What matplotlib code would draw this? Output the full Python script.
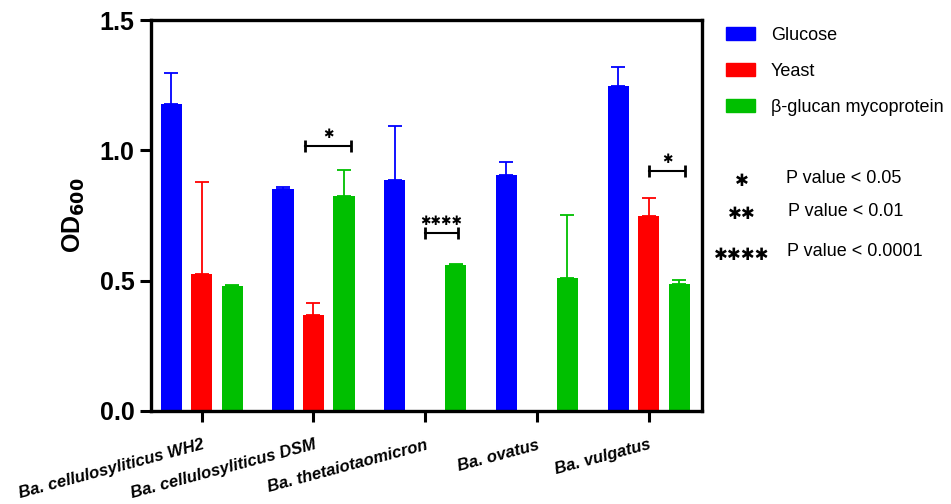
import numpy as np
import matplotlib.pyplot as plt
from matplotlib.patches import Patch

plt.rcParams['font.family'] = ['Liberation Sans', 'DejaVu Sans']

# ---- data ----
strains = ['Ba. cellulosyliticus WH2', 'Ba. cellulosyliticus DSM',
           'Ba. thetaiotaomicron', 'Ba. ovatus', 'Ba. vulgatus']
series = ['Glucose', 'Yeast', 'β-glucan mycoprotein']
colors = ['#0000ff', '#ff0000', '#00bf00']

glucose = [1.177, 0.853, 0.887, 0.906, 1.246]
yeast = [0.527, 0.369, np.nan, np.nan, 0.749]
mycoprotein = [0.478, 0.824, 0.559, 0.510, 0.488]

glucose_err = [0.120, 0.006, 0.206, 0.050, 0.073]
yeast_err = [0.350, 0.044, np.nan, np.nan, 0.070]
mycoprotein_err = [0.005, 0.099, 0.004, 0.241, 0.015]

# significance brackets: (x start, x end, y, stars)
sig_x0 = [0.925, 2.0, 4.004]
sig_x1 = [1.337, 2.295, 4.326]
sig_y = [1.016, 0.683, 0.919]
sig_lbl = ['✱', '✱✱✱✱', '✱']

sig_keys = ['✱', '✱✱', '✱✱✱✱']
sig_text = ['P value < 0.05', 'P value < 0.01', 'P value < 0.0001']

# ---- plot ----
fig = plt.figure(figsize=(9.51, 5.04), dpi=100)
ax = fig.add_axes([151 / 951, 1 - 411 / 504, (702 - 151) / 951, (411 - 20) / 504])

x = np.arange(len(strains))
offset = 0.273
width = 0.19
vals = [glucose, yeast, mycoprotein]
errs = [glucose_err, yeast_err, mycoprotein_err]
for k in range(3):
    v = np.array(vals[k], dtype=float)
    e = np.array(errs[k], dtype=float)
    ax.bar(x + (k - 1) * offset, v, width, color=colors[k],
           yerr=[np.zeros_like(e), e], capsize=5,
           error_kw=dict(ecolor=colors[k], elinewidth=1.3, capthick=1.3))

for x0, x1, y, s in zip(sig_x0, sig_x1, sig_y, sig_lbl):
    ax.plot([x0, x1], [y, y], color='k', lw=1.5, marker='|', markersize=9, mew=2)
    ax.text((x0 + x1) / 2, y + 0.02, s, ha='center', va='bottom',
            fontsize=9, family='DejaVu Sans')

ax.set_xlim(-0.454, 4.477)
ax.set_ylim(0, 1.5)
ax.set_yticks([0, 0.5, 1.0, 1.5])
ax.set_yticklabels(['0.0', '0.5', '1.0', '1.5'], fontsize=18, fontweight='bold')
ax.set_xticks(x)
ax.set_xticklabels(strains, rotation=15, ha='right', rotation_mode='anchor',
                   fontsize=12, fontweight='bold', style='italic')
ax.tick_params(axis='both', width=2.2, length=8, direction='out')
ax.tick_params(axis='y', pad=4)
ax.tick_params(axis='x', pad=11)
for sp in ax.spines.values():
    sp.set_linewidth(2.4)
ax.set_ylabel(r'OD$_{\mathbf{600}}$', fontsize=18, fontweight='bold', labelpad=9)

handles = [Patch(color=c) for c in colors]
fig.legend(handles, series, loc='upper left', bbox_to_anchor=(726 / 951, 1 - 27 / 504),
           frameon=False, fontsize=13, handlelength=1.6, handleheight=0.7,
           handletextpad=0.9, labelspacing=1.05, borderpad=0, borderaxespad=0)

ys = [178, 211, 252]
txt_x = [786, 788, 787]
for key, t, yy, tx in zip(sig_keys, sig_text, ys, txt_x):
    fig.text(742 / 951, 1 - (yy + 3) / 504, key, ha='center', va='center',
             fontsize=12, family='DejaVu Sans')
    fig.text(tx / 951, 1 - yy / 504, t, ha='left', va='center', fontsize=13)

fig.savefig('out.png', dpi=100)
